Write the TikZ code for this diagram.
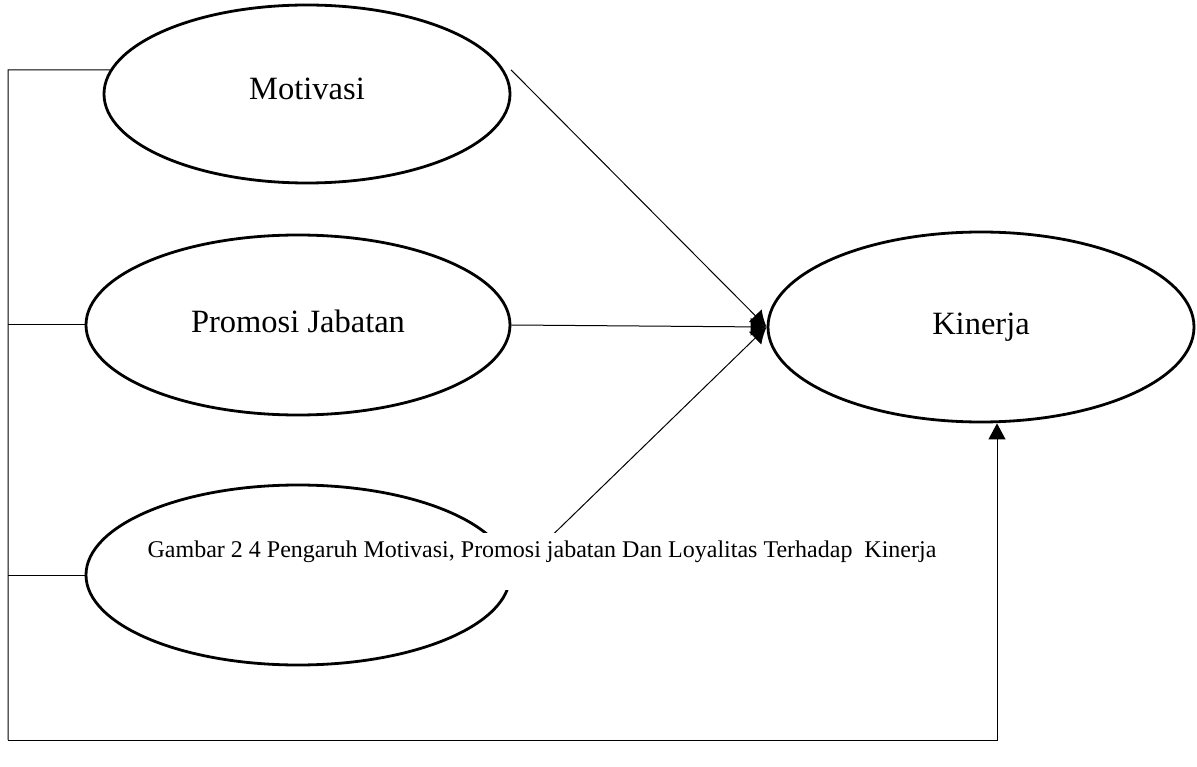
\documentclass[tikz,border=0pt]{standalone}
\usepackage{fontspec}
\setmainfont{Liberation Serif}
\usetikzlibrary{shapes.geometric,arrows.meta}
\begin{document}
\begin{tikzpicture}[x=1pt,y=-1pt,
  oval/.style={ellipse,draw,line width=2.8pt,inner sep=0pt,font=\fontsize{32.5}{38}\selectfont},
  conn/.style={line width=1pt},
  tip/.style={-{Latex[length=16pt,width=18pt]}}]
\useasboundingbox (0,0) rectangle (1197,767);
\node[oval,minimum width=406,minimum height=178] (mot) at (307,94) {\raisebox{10pt}{Motivasi}};
\node[oval,minimum width=424,minimum height=180] (pro) at (298,325) {\raisebox{8pt}{Promosi Jabatan}};
\node[oval,minimum width=424,minimum height=180] (loy) at (298,575) {};
\node[oval,minimum width=426,minimum height=190] (kin) at (981,327) {Kinerja};
\coordinate (c1) at (8,70);
\coordinate (c4) at (8,740);
\coordinate (c5) at (997,740);
\draw[conn,tip] ([xshift=7pt]mot.7) -- (kin.west);
\draw[conn,tip] (pro.east) -- (kin.west);
\draw[conn,tip] (loy.east) -- (kin.west);
\draw[conn] (mot.173) -- (c1) -- (c4);
\draw[conn] (pro.west) -- (pro.west -| c1);
\draw[conn] (loy.west) -- (loy.west -| c1);
\draw[conn,-{Triangle[length=16pt,width=17pt]}] (c4) -- (c5) -- (c5 |- kin.south);
\node[fill=white,minimum width=800,minimum height=57,inner sep=0pt] (capbox) at (545,561) {};
\node[font=\fontsize{24}{28}\selectfont,inner sep=0pt] (cap) at (542,552) {Gambar 2 4 Pengaruh Motivasi, Promosi jabatan Dan Loyalitas Terhadap\ \ Kinerja};
\end{tikzpicture}
\end{document}
